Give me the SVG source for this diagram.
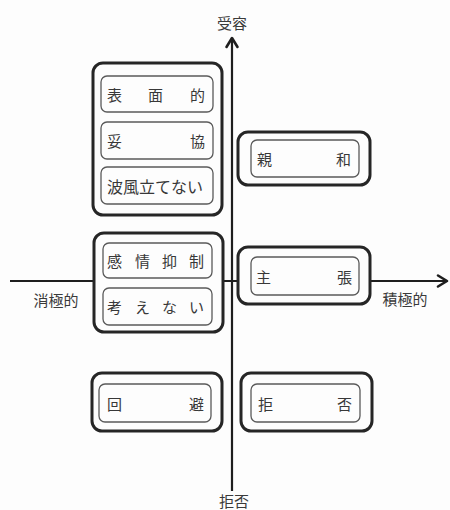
<svg xmlns="http://www.w3.org/2000/svg" width="450" height="510" viewBox="0 0 450 510">
<style>
.outer{fill:#fdfdfd;stroke:#262626;stroke-width:3}
.inner{fill:#fdfdfd;stroke:#5a5a5a;stroke-width:1.3}
.t{font-family:"Noto Sans CJK JP","Noto Sans CJK SC",sans-serif;font-size:15px;fill:#383838;dominant-baseline:central}
.lbl{font-family:"Noto Sans CJK JP","Noto Sans CJK SC",sans-serif;font-size:15px;fill:#3a3a3a;dominant-baseline:central}
.axis{stroke:#1e1e1e;stroke-width:2.2;fill:none}
.head{stroke:#1e1e1e;stroke-width:2.6;fill:none;stroke-linecap:round;stroke-linejoin:round}
</style>
<rect width="450" height="510" fill="#fdfdfd"/>
<g id="connectors">
<line class="axis" x1="232" y1="39" x2="232" y2="491"/>
<polyline class="head" points="226.5,47 232,38 237.5,47"/>
<line class="axis" x1="10" y1="281" x2="446" y2="281"/>
<polyline class="head" points="438,275.5 447,281 438,286.5"/>
</g>
<g id="axis-labels">
<text class="lbl" x="232" y="22" text-anchor="middle">受容</text>
<text class="lbl" x="234" y="500" text-anchor="middle">拒否</text>
<text class="lbl" x="56" y="299" text-anchor="middle">消極的</text>
<text class="lbl" x="405" y="298" text-anchor="middle">積極的</text>
</g>
<g id="group-top-left">
<rect class="outer" x="93" y="63" width="129" height="152" rx="10"/>
<g id="node-hyomenteki">
<rect class="inner" x="101" y="76" width="112" height="36" rx="6"/>
<text class="t" x="107 148 190" y="94">表面的</text>
</g>
<g id="node-dakyo">
<rect class="inner" x="101" y="122" width="112" height="37" rx="6"/>
<text class="t" x="107 190" y="140.5">妥協</text>
</g>
<g id="node-namikaze">
<rect class="inner" x="101" y="167" width="112" height="37" rx="6"/>
<text class="t" x="107" y="186" style="font-size:16px">波風立てない</text>
</g>
</g>
<g id="group-shinwa">
<rect class="outer" x="238" y="132" width="132" height="53" rx="10"/>
<rect class="inner" x="251" y="140" width="108" height="37" rx="6"/>
<text class="t" x="257 336" y="158.5">親和</text>
</g>
<g id="group-mid-left">
<rect class="outer" x="94" y="233" width="129" height="99" rx="10"/>
<g id="node-kanjo">
<rect class="inner" x="103" y="243" width="109" height="35" rx="6"/>
<text class="t" x="107 135 162 189" y="260.5">感情抑制</text>
</g>
<g id="node-kangaenai">
<rect class="inner" x="103" y="288" width="109" height="37" rx="6"/>
<text class="t" x="107 135 162 189" y="306.5">考えない</text>
</g>
</g>
<g id="group-shucho">
<rect class="outer" x="238" y="247" width="132" height="57" rx="10"/>
<rect class="inner" x="251" y="257" width="108" height="38" rx="6"/>
<text class="t" x="256 337" y="276">主張</text>
</g>
<g id="group-kaihi">
<rect class="outer" x="92" y="373" width="130" height="58" rx="10"/>
<rect class="inner" x="99" y="384" width="112" height="38" rx="6"/>
<text class="t" x="107 189" y="403">回避</text>
</g>
<g id="group-kyohi">
<rect class="outer" x="241" y="373" width="131" height="58" rx="10"/>
<rect class="inner" x="251" y="384" width="109" height="38" rx="6"/>
<text class="t" x="258 337" y="403">拒否</text>
</g>
</svg>
